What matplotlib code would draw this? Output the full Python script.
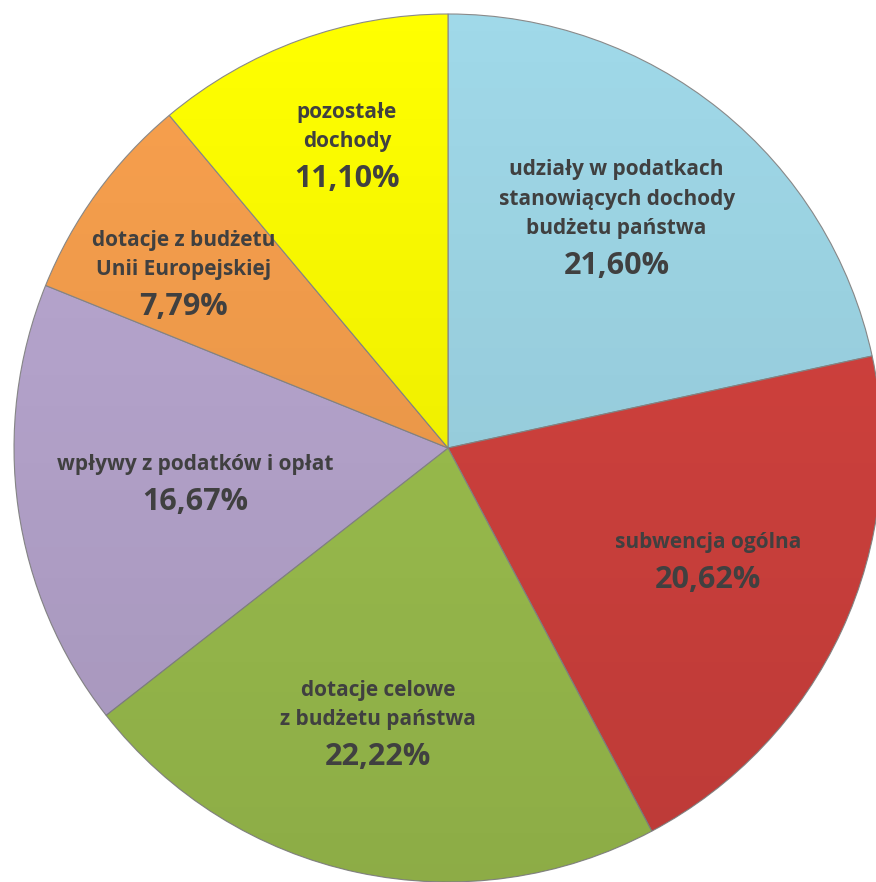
import numpy as np
import matplotlib.pyplot as plt

# dane
kategorie = ["udziały w podatkach\nstanowiących dochody\nbudżetu państwa",
             "subwencja ogólna",
             "dotacje celowe\nz budżetu państwa",
             "wpływy z podatków i opłat",
             "dotacje z budżetu\nUnii Europejskiej",
             "pozostałe\ndochody"]
udzialy = [21.60, 20.62, 22.22, 16.67, 7.79, 11.10]
etykiety_proc = ["21,60%", "20,62%", "22,22%", "16,67%", "7,79%", "11,10%"]
kolory = ["#a0d9e9", "#d6433f", "#a0c450", "#bba9d3", "#f9a14e", "#ffff00"]
wysuniecie = [0.012, 0, 0, 0, 0, 0]
# polozenie etykiet: odleglosc (czesc promienia) i przesuniecie kata
odl_etykiet = [0.606, 0.652, 0.685, 0.588, 0.714, 0.705]
przes_kata = [-1.0, 1.6, -1.6, -0.3, 4.7, -0.7]

plt.rcParams['font.family'] = ['Open Sans', 'DejaVu Sans']

fig = plt.figure(figsize=(8.76, 8.82), dpi=100)
ax = fig.add_axes([0, 0, 1, 1])

R = 434
cx, cy = 448, 434
wedges, _ = ax.pie(udzialy, colors=kolory, startangle=90, counterclock=False,
                   explode=wysuniecie, radius=R, center=(cx, cy),
                   wedgeprops=dict(edgecolor="#8a8a8a", linewidth=0.8))

# lekkie cieniowanie (ciemniej u dołu)
grad = np.zeros((200, 2, 4))
grad[..., 3] = np.linspace(0.12, 0.0, 200)[:, None]
for w in wedges:
    im = ax.imshow(grad, extent=(0, 876, 0, 882), origin='lower',
                   zorder=w.get_zorder() + 0.1, aspect='auto')
    im.set_clip_path(w)

ax.set_xlim(0, 876)
ax.set_ylim(0, 882)
ax.set_aspect('equal')
ax.axis('off')

for w, kat, proc, d, dk in zip(wedges, kategorie, etykiety_proc, odl_etykiet, przes_kata):
    ang = np.deg2rad((w.theta1 + w.theta2) / 2 + dk)
    x0, y0 = w.center
    x = x0 + d * R * np.cos(ang)
    y = y0 + d * R * np.sin(ang)
    ax.annotate(kat, (x, y), xytext=(0, 5), textcoords='offset points',
                ha='center', va='bottom', fontsize=15, fontweight='bold',
                color="#404040", linespacing=1.53, zorder=5)
    ax.annotate(proc, (x, y), xytext=(0, -14.5), textcoords='offset points',
                ha='center', va='center', fontsize=22, fontweight='bold',
                color="#404040", zorder=5)

fig.savefig("out.png", dpi=100)
